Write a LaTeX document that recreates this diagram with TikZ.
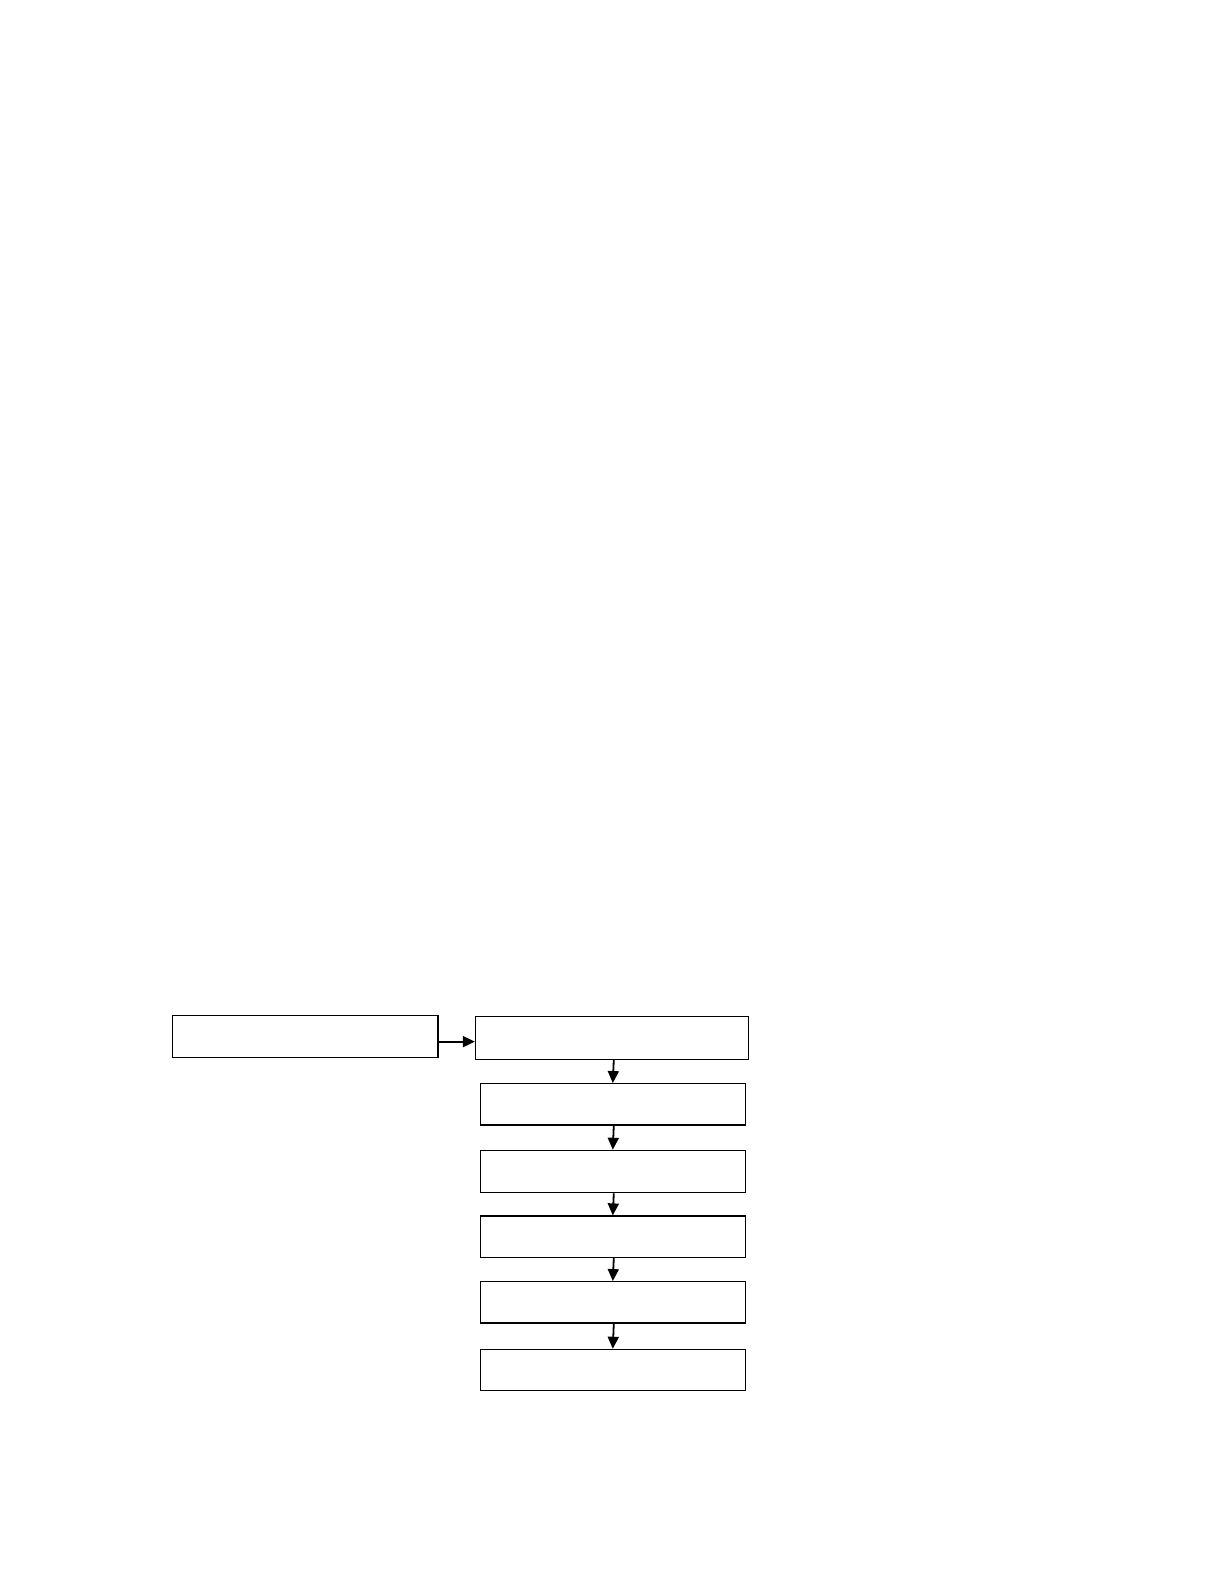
\documentclass[tikz,border=0pt]{standalone}
\usetikzlibrary{arrows.meta}
\begin{document}
\begin{tikzpicture}[x=1.0103pt,y=-1.0103pt,
  box/.style={draw=black,line width=1.1pt,fill=white,inner sep=0pt,anchor=north west},
  conn/.style={line width=1.8pt,-{Triangle[length=12pt,width=11pt]}}]
\useasboundingbox (0pt,0pt) rectangle (1224pt,-1584pt);
\node[box,minimum width=263*1.0103pt,minimum height=41*1.0103pt] (a) at (170,1005) {};
\node[box,minimum width=270*1.0103pt,minimum height=42*1.0103pt] (b) at (470,1006) {};
\node[box,minimum width=262*1.0103pt,minimum height=41*1.0103pt] (c) at (475,1072) {};
\node[box,minimum width=262*1.0103pt,minimum height=42*1.0103pt] (d) at (475,1138) {};
\node[box,minimum width=262*1.0103pt,minimum height=41*1.0103pt] (e) at (475,1203) {};
\node[box,minimum width=262*1.0103pt,minimum height=41*1.0103pt] (f) at (475,1268) {};
\node[box,minimum width=262*1.0103pt,minimum height=41*1.0103pt] (g) at (475,1335) {};
\draw[conn] (a.east |- 0,1031) -- (b.west |- 0,1031);
\draw[conn] ([xshift=2pt]b.south) -- (c.north);
\draw[conn] ([xshift=1pt]c.south) -- (d.north);
\draw[conn] ([xshift=1pt]d.south) -- (e.north);
\draw[conn] ([xshift=1pt]e.south) -- (f.north);
\draw[conn] ([xshift=1pt]f.south) -- (g.north);
\end{tikzpicture}
\end{document}
